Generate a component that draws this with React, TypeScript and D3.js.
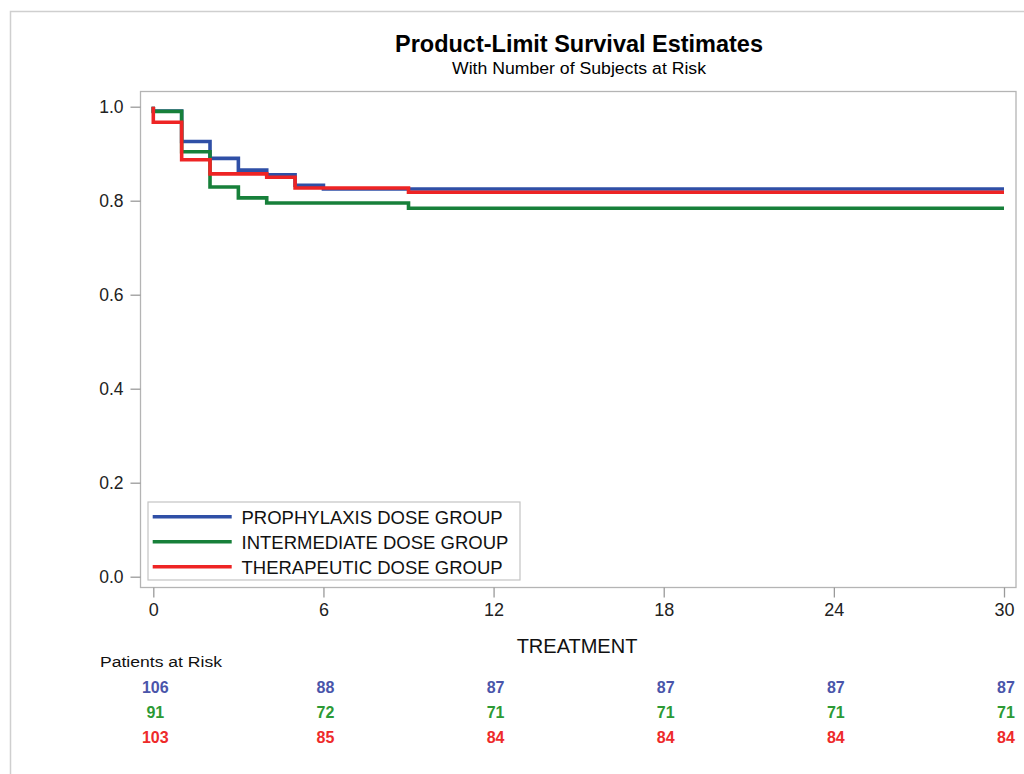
import React, { useEffect, useRef } from 'react'
import * as d3 from 'd3'

// Survival curves: step times (months) and estimates
const prophylaxisTimes = [0, 0, 1, 2, 3, 4, 5, 6, 30]
const prophylaxisSurv = [1.0, 0.991, 0.926, 0.89, 0.865, 0.855, 0.833, 0.825, 0.825]

const intermediateTimes = [0, 0, 1, 2, 3, 4, 9, 30]
const intermediateSurv = [1.0, 0.99, 0.904, 0.829, 0.806, 0.795, 0.784, 0.784]

const therapeuticTimes = [0, 0, 1, 2, 4, 5, 9, 30]
const therapeuticSurv = [1.0, 0.967, 0.887, 0.857, 0.85, 0.827, 0.818, 0.818]

const groupNames = ['PROPHYLAXIS DOSE GROUP', 'INTERMEDIATE DOSE GROUP', 'THERAPEUTIC DOSE GROUP']

// Number at risk, at each x tick
const riskTimes = [0, 6, 12, 18, 24, 30]
const prophylaxisRisk = [106, 88, 87, 87, 87, 87]
const intermediateRisk = [91, 72, 71, 71, 71, 71]
const therapeuticRisk = [103, 85, 84, 84, 84, 84]

const yTicks = [0, 0.2, 0.4, 0.6, 0.8, 1.0]

export default function App() {
    const ref = useRef<SVGSVGElement>(null)

    useEffect(() => {
        const width = 1024
        const height = 774
        const font = '"Liberation Sans", Arial, sans-serif'

        const lineColors = ['#2f4fa6', '#17803a', '#ee2424']
        const textColors = ['#4a55aa', '#2c9a34', '#ee2a2a']

        const svg = d3.select(ref.current)
        svg.selectAll('*').remove()

        // Outer border
        svg.append('path')
            .attr('d', `M10.5,${height} V11.5 H${width}`)
            .attr('fill', 'none')
            .attr('stroke', '#cfcfcf')
            .attr('stroke-width', 1.5)

        // Scales
        const xScale = d3.scaleLinear().domain([0, 30]).range([153.3, 1004])
        const yScale = d3.scaleLinear().domain([0, 1]).range([576.7, 106.7])

        // Plot frame
        svg.append('rect')
            .attr('x', 140.5)
            .attr('y', 91.5)
            .attr('width', 1016 - 140.5)
            .attr('height', 587.5 - 91.5)
            .attr('fill', 'none')
            .attr('stroke', '#b4b4b4')
            .attr('stroke-width', 1.3)

        // Title
        svg.append('text')
            .text('Product-Limit Survival Estimates')
            .attr('x', 579)
            .attr('y', 52)
            .attr('text-anchor', 'middle')
            .attr('font-family', font)
            .attr('font-weight', 'bold')
            .attr('font-size', '24px')
            .attr('textLength', 368)
            .attr('lengthAdjust', 'spacingAndGlyphs')
            .attr('fill', '#000')

        svg.append('text')
            .text('With Number of Subjects at Risk')
            .attr('x', 579)
            .attr('y', 74)
            .attr('text-anchor', 'middle')
            .attr('font-family', font)
            .attr('font-size', '16px')
            .attr('textLength', 254)
            .attr('lengthAdjust', 'spacingAndGlyphs')
            .attr('fill', '#000')

        // Y axis
        const yAxis = d3.axisLeft(yScale)
            .tickValues(yTicks)
            .tickFormat(d3.format('.1f'))
            .tickSize(10)
            .tickPadding(7)
        const yG = svg.append('g').attr('transform', 'translate(140.5,0)').call(yAxis)
        yG.select('.domain').remove()
        yG.selectAll('line').attr('stroke', '#9a9a9a').attr('stroke-width', 1.3)
        yG.selectAll('text')
            .attr('font-family', font)
            .attr('font-size', '17.5px')
            .attr('fill', '#222')

        // X axis
        const xAxis = d3.axisBottom(xScale)
            .tickValues(riskTimes)
            .tickFormat(d3.format('d'))
            .tickSize(10)
            .tickPadding(6)
        const xG = svg.append('g').attr('transform', 'translate(0,587.5)').call(xAxis)
        xG.select('.domain').remove()
        xG.selectAll('line').attr('stroke', '#9a9a9a').attr('stroke-width', 1.3)
        xG.selectAll('text')
            .attr('font-family', font)
            .attr('font-size', '18px')
            .attr('fill', '#222')

        svg.append('text')
            .text('TREATMENT')
            .attr('x', 577)
            .attr('y', 653)
            .attr('text-anchor', 'middle')
            .attr('font-family', font)
            .attr('font-size', '20px')
            .attr('fill', '#111')

        // Survival step curves
        const curves = [
            [prophylaxisTimes, prophylaxisSurv],
            [intermediateTimes, intermediateSurv],
            [therapeuticTimes, therapeuticSurv],
        ]
        const line = d3.line<[number, number]>()
            .x(d => xScale(d[0]))
            .y(d => yScale(d[1]))
            .curve(d3.curveStepAfter)

        curves.forEach(([times, surv], i) => {
            const pts = times.map((t, j) => [t, surv[j]] as [number, number])
            svg.append('path')
                .attr('d', line(pts))
                .attr('fill', 'none')
                .attr('stroke', lineColors[i])
                .attr('stroke-width', 3.6)
        })

        // Legend
        svg.append('rect')
            .attr('x', 148)
            .attr('y', 502)
            .attr('width', 520 - 148)
            .attr('height', 580 - 502)
            .attr('fill', '#fff')
            .attr('stroke', '#c4c4c4')
            .attr('stroke-width', 1.2)

        groupNames.forEach((name, i) => {
            const y = 516.7 + i * 25
            svg.append('line')
                .attr('x1', 152.7)
                .attr('x2', 231.7)
                .attr('y1', y)
                .attr('y2', y)
                .attr('stroke', lineColors[i])
                .attr('stroke-width', 3.6)
            svg.append('text')
                .text(name)
                .attr('x', 241.5)
                .attr('y', y + 7)
                .attr('font-family', font)
                .attr('font-size', '18.5px')
                .attr('fill', '#111')
        })

        // Patients at risk table
        svg.append('text')
            .text('Patients at Risk')
            .attr('x', 100)
            .attr('y', 667)
            .attr('font-family', font)
            .attr('font-size', '15.5px')
            .attr('textLength', 122)
            .attr('lengthAdjust', 'spacingAndGlyphs')
            .attr('fill', '#111')

        const riskRows = [prophylaxisRisk, intermediateRisk, therapeuticRisk]
        riskRows.forEach((row, i) => {
            row.forEach((n, j) => {
                svg.append('text')
                    .text(n)
                    .attr('x', xScale(riskTimes[j]) + 2)
                    .attr('y', 693 + i * 25)
                    .attr('text-anchor', 'middle')
                    .attr('font-family', font)
                    .attr('font-weight', 'bold')
                    .attr('font-size', '16px')
                    .attr('fill', textColors[i])
            })
        })
    }, [])

    return (
        <svg
            ref={ref}
            width={1024}
            height={774}
            style={{ position: 'absolute', left: 0, top: 0, background: '#fff' }}
        />
    )
}
